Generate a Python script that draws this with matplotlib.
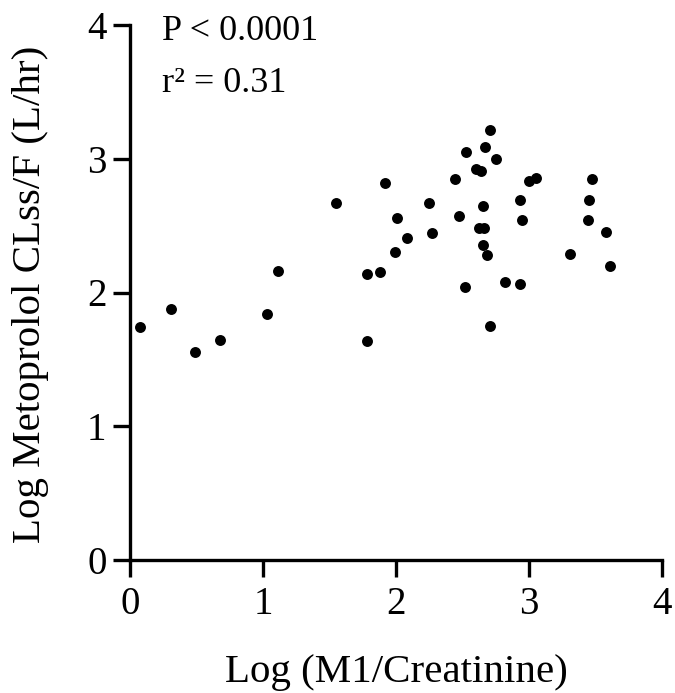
import matplotlib
matplotlib.use("Agg")
import matplotlib.pyplot as plt

plt.rcParams['font.family'] = ['Liberation Serif', 'DejaVu Serif']

log_m1_creatinine = [0.073, 0.306, 0.486, 0.677, 1.032, 1.115, 1.549, 1.78, 1.882, 1.78,
                     1.917, 2.01, 1.995, 2.08, 2.25, 2.27, 2.444, 2.474, 2.521, 2.529,
                     2.60, 2.637, 2.672, 2.704, 2.75, 2.654, 2.624, 2.659, 2.654, 2.682,
                     2.704, 2.82, 2.932, 2.935, 2.945, 2.998, 3.05, 3.308, 3.471, 3.451,
                     3.444, 3.579, 3.609]
log_clss_f = [1.74, 1.876, 1.558, 1.647, 1.841, 2.164, 2.667, 2.136, 2.152, 1.636,
              2.816, 2.56, 2.30, 2.407, 2.667, 2.445, 2.848, 2.571, 2.041, 3.048,
              2.922, 2.912, 3.089, 3.215, 2.998, 2.649, 2.48, 2.48, 2.354, 2.28,
              1.748, 2.079, 2.061, 2.69, 2.545, 2.836, 2.859, 2.291, 2.848, 2.69,
              2.545, 2.455, 2.197]

ticks = [0, 1, 2, 3, 4]
annot_p = "P < 0.0001"
annot_r2 = "r\u00b2 = 0.31"

fig = plt.figure(figsize=(6.75, 6.93), dpi=100)
ax = fig.add_axes([130/675, 1 - 560/693, 532/675, 535/693])
ax.scatter(log_m1_creatinine, log_clss_f, s=62, color='black', linewidths=0,
           zorder=3, clip_on=False)
ax.set_xlim(0, 4)
ax.set_ylim(0, 4)
ax.set_xticks(ticks)
ax.set_yticks(ticks)
for s in ['top', 'right']:
    ax.spines[s].set_visible(False)
for s in ['left', 'bottom']:
    ax.spines[s].set_linewidth(2.4)
ax.tick_params(width=2.4, length=12, labelsize=28)
ax.tick_params(axis='x', pad=7)
ax.tick_params(axis='y', pad=5)
ax.set_xlabel("Log (M1/Creatinine)", fontsize=29.5, labelpad=22)
ax.set_ylabel("Log Metoprolol CLss/F (L/hr)", fontsize=29.5)
ax.yaxis.set_label_coords(-0.152, 0.496)
ax.text(0.24, 3.89, annot_p, fontsize=26, va='baseline', ha='left')
ax.text(0.24, 3.50, annot_r2, fontsize=26, va='baseline', ha='left')
fig.savefig("out.png", dpi=100)
